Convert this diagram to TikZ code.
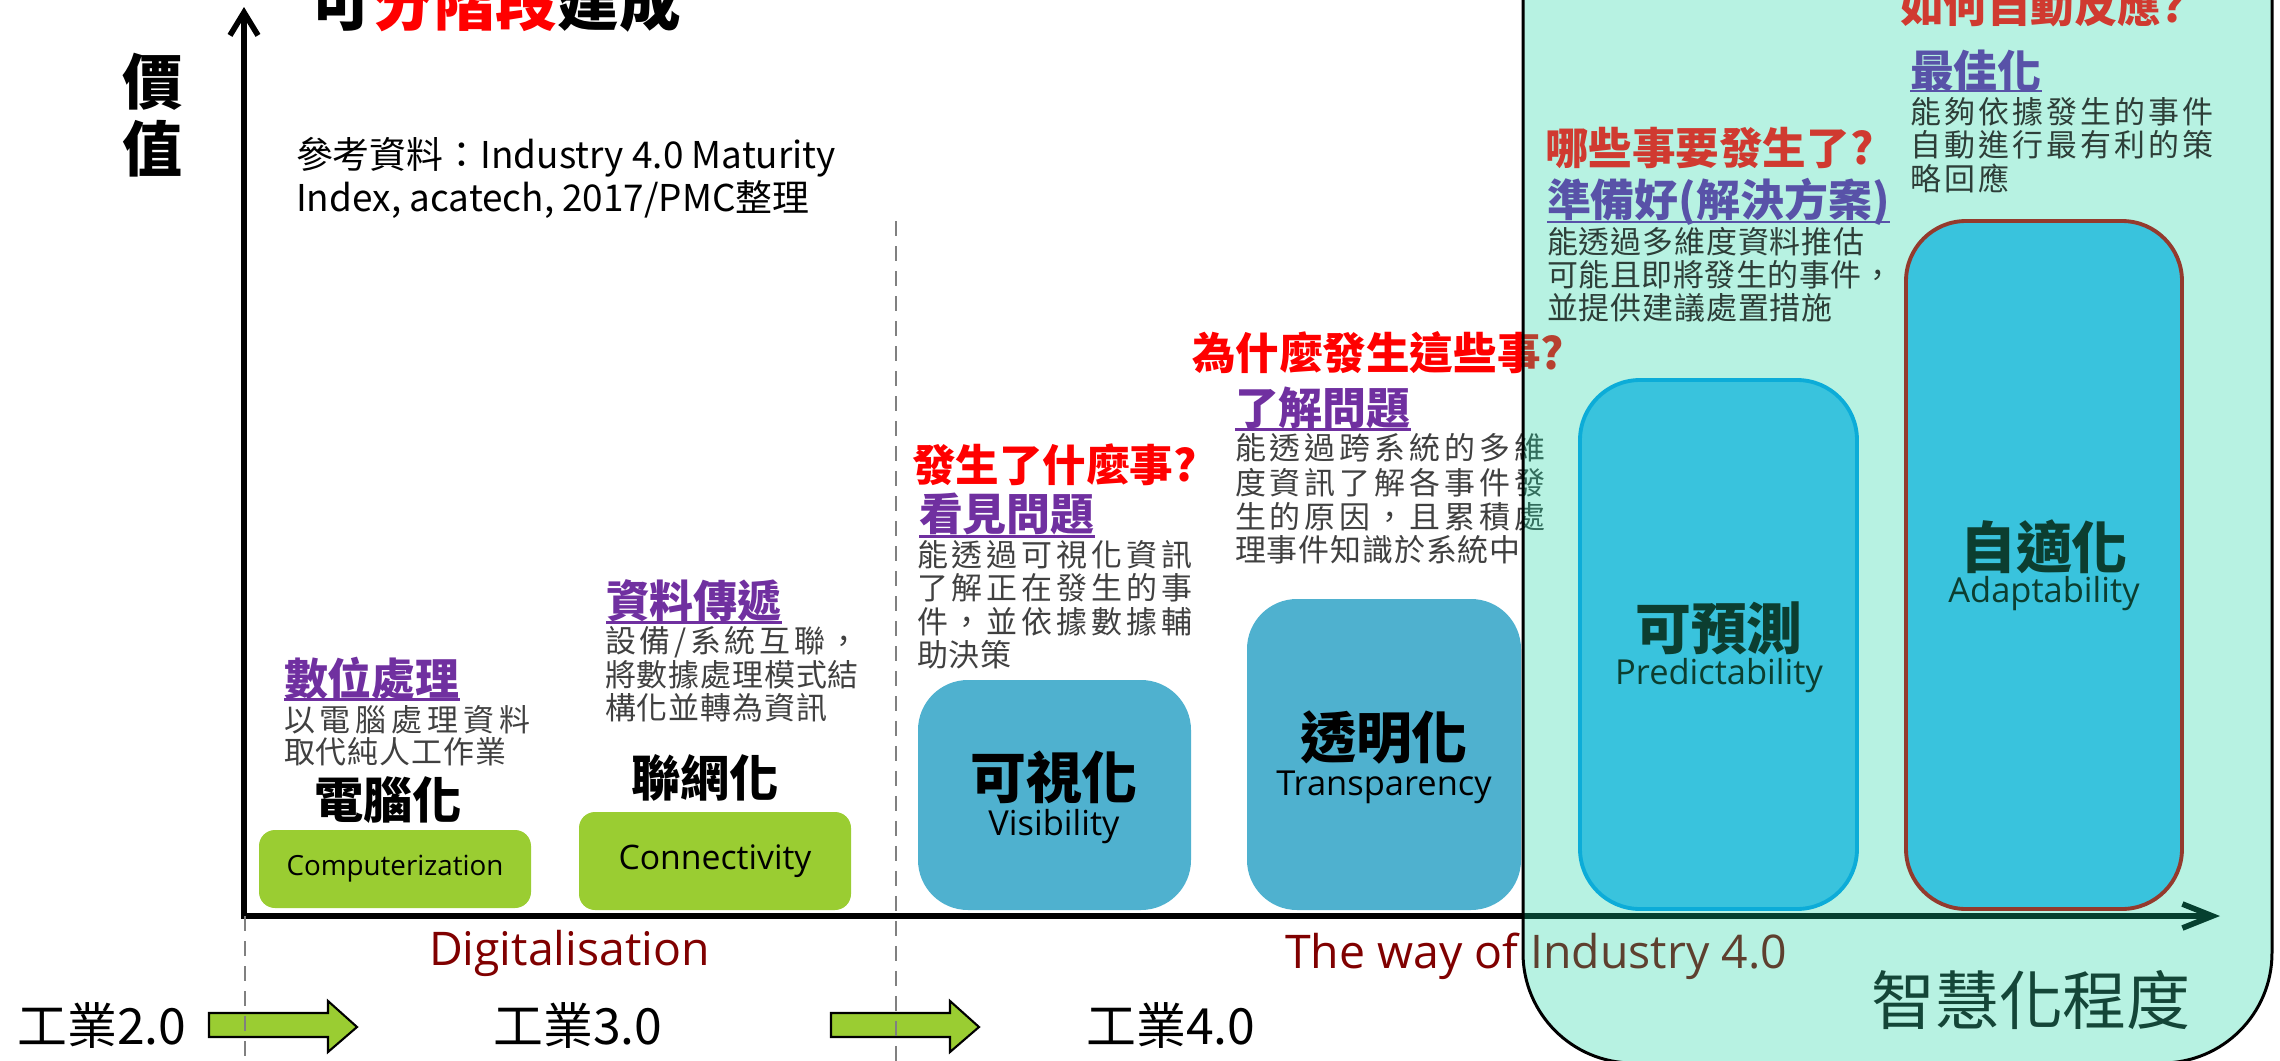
\documentclass[tikz,border=0pt]{standalone}
\usepackage{fontspec}
\setmainfont{Noto Sans CJK TC}
\newfontfamily\lat{Open Sans}
\usetikzlibrary{arrows.meta}
\definecolor{gfill}{RGB}{154,205,50}
\definecolor{bfill}{RGB}{79,177,207}
\definecolor{pfill}{RGB}{57,195,221}
\definecolor{pborder}{RGB}{12,172,216}
\definecolor{aborder}{RGB}{148,58,45}
\definecolor{hpurple}{RGB}{112,48,160}
\definecolor{ppurple}{RGB}{88,82,168}
\definecolor{qred}{RGB}{255,0,0}
\definecolor{pred}{RGB}{208,58,48}
\definecolor{dgray}{RGB}{64,64,64}
\definecolor{pgray}{RGB}{45,62,56}
\definecolor{plabel}{RGB}{12,62,48}
\definecolor{pgreen}{RGB}{20,70,56}
\definecolor{dred}{RGB}{128,0,0}
\definecolor{dashgray}{RGB}{128,128,128}
\definecolor{panelc}{RGB}{18,212,158}
\newcommand\fsz[1]{\fontsize{#1}{#1}\selectfont}
\newcommand\lsp[2]{{\addfontfeature{LetterSpace=#1}#2}}
\begin{document}
\begin{tikzpicture}[x=0.1mm,y=-0.1mm,
  every node/.style={inner sep=0pt,outer sep=0pt},
  gbox/.style={fill=gfill,draw=none,rounded corners=1.6mm},
  bbox/.style={fill=bfill,draw=none,rounded corners=5mm},
  qtext/.style={anchor=west,text=qred,font=\fsz{12.4}\bfseries},
  hd/.style={anchor=west,text=hpurple,font=\fsz{12.5}\bfseries},
  ul/.style={line width=0.85pt},
  dl/.style={anchor=west,text=dgray,font=\fsz{8.8}},
  bt/.style={font=\fsz{15.9}\bfseries},
  bs/.style={font=\lat\fsz{9.8}},
  bigk/.style={font=\fsz{14}\bfseries},
  axisline/.style={line width=1.6pt},
  gdashed/.style={dashgray,line width=0.85pt,dash pattern=on 1.5mm off 1mm},
  blockarrow/.style={fill=gfill,draw=black,line width=0.6pt},
  era/.style={font=\fsz{14.2}},
  way/.style={anchor=base west,text=dred,font=\lat\fsz{13.2}}]
\useasboundingbox (0,0) rectangle (2280,1061);
\clip (0,0) rectangle (2280,1061);

% ---------- axes ----------
\coordinate (Ybot) at (244,919);
\coordinate (Ytop) at (244,7);
\coordinate (Xst) at (241,916);
\coordinate (Xend) at (2220,916);
\draw[axisline,-{Straight Barb[length=2.3mm,width=2.8mm]}] (Ybot) -- (Ytop);
\draw[axisline,-{Straight Barb[length=3mm,width=2.4mm]}] (Xst) -- (Xend);

% ---------- title and side text ----------
\node[font=\fsz{17.6}\bfseries] (title) at (496,2) {可{\color{qred}分階段}建成};
\node[font=\fsz{17.1}\bfseries] (jia) at (153,82) {價};
\node[font=\fsz{17.1}\bfseries] (zhi) at (153,149) {值};
\node[anchor=west,font=\fsz{10.5}] (ref1) at (296,157) {參考資料：Industry 4.0 Maturity};
\node[anchor=west,font=\fsz{10.5}] (ref2) at (296,200) {Index, acatech, 2017/PMC整理};

% ---------- green boxes ----------
\node[gbox,minimum width=27.2mm,minimum height=7.8mm,font=\lat\fsz{7.9}] (cbox) at (395,869) {Computerization};
\node[gbox,minimum width=27.2mm,minimum height=9.8mm,font=\lat\fsz{9.6}] (nbox) at (715,861) {Connectivity};
\node[bigk] (cz) at (388,800) {電腦化};
\node[bigk] (lw) at (705,778) {聯網化};

\node[hd] (h1) at (284,678) {數位處理};
\draw[ul,hpurple] ([yshift=-2.1mm]h1.west) -- ([yshift=-2.1mm]h1.east);
\node[dl] (a1) at (284,720) {\lsp{16}{以電腦處理資料}};
\node[dl] (a2) at (284,752) {\lsp{3}{取代純人工作業}};

\node[hd] (h2) at (606,601) {資料傳遞};
\draw[ul,hpurple] ([yshift=-2.1mm]h2.west) -- ([yshift=-2.1mm]h2.east);
\node[dl] (b1) at (605,642) {\lsp{12}{設備/系統互聯，}};
\node[dl] (b2) at (605,675) {\lsp{3}{將數據處理模式結}};
\node[dl] (b3) at (605,708) {\lsp{3}{構化並轉為資訊}};

% ---------- blue boxes ----------
\node[bbox,minimum width=27.3mm,minimum height=23mm] (vbox) at (1054.5,795) {};
\node[bbox,minimum width=27.4mm,minimum height=31.1mm] (tbox) at (1384,754.5) {};
\node[bt] (vt) at (1054,777) {可視化};
\node[bs] (vs) at (1054,827) {Visibility};
\node[bt] (tt) at (1384,737) {透明化};
\node[bs] (ts) at (1384,787) {Transparency};

\node[qtext] (q1) at (912,465) {發生了什麼事?};
\node[hd] (h3) at (919,514) {看見問題};
\draw[ul,hpurple] ([yshift=-2.2mm]h3.west) -- ([yshift=-2.2mm]h3.east);
\node[dl] (c1) at (917,555) {\lsp{13}{能透過可視化資訊}};
\node[dl] (c2) at (917,588) {\lsp{13}{了解正在發生的事}};
\node[dl] (c3) at (917,622) {\lsp{13}{件，並依據數據輔}};
\node[dl] (c4) at (917,655) {\lsp{3}{助決策}};

\node[qtext] (q2) at (1192,353) {為什麼發生這些事?};
\node[hd] (h4) at (1235,408) {了解問題};
\draw[ul,hpurple] ([yshift=-2.1mm]h4.west) -- ([yshift=-2.1mm]h4.east);
\node[dl] (d1) at (1235,448) {\lsp{13}{能透過跨系統的多維}};
\node[dl] (d2) at (1235,483) {\lsp{13}{度資訊了解各事件發}};
\node[dl] (d3) at (1235,517) {\lsp{13}{生的原因，且累積處}};
\node[dl] (d4) at (1235,550) {\lsp{3}{理事件知識於系統中}};

% ---------- bottom row ----------
\node[way] (digi) at (429,965) {Digitalisation};
\node[way] (wayi) at (1285,968) {The way of Industry 4.0};
\node[era] (ind2) at (102,1025) {工業2.0};
\node[era] (ind3) at (578,1025) {工業3.0};
\node[era] (ind4) at (1171,1025) {工業4.0};
\draw[blockarrow] (209,1013) -- (328,1013) -- (328,1001) -- (357,1027) -- (328,1052) -- (328,1037) -- (209,1037) -- cycle;
\draw[blockarrow] (831,1013) -- (950,1013) -- (950,1001) -- (979,1027) -- (950,1052) -- (950,1037) -- (831,1037) -- cycle;

\coordinate (da) at (245,916);
\coordinate (db) at (245,1061);
\coordinate (dc) at (896,221);
\coordinate (dd) at (896,1061);
\draw[gdashed] (da) -- (db);
\draw[gdashed] (dc) -- (dd);

% ---------- translucent panel ----------
\draw[line width=0.85pt,fill=panelc,fill opacity=0.3,rounded corners=11mm] (1523,-200) rectangle (2272,1063);

% ---------- panel content ----------
\node[fill=pfill,draw=pborder,line width=1.1pt,rounded corners=6mm,minimum width=27.7mm,minimum height=52.9mm] (pbox) at (1718.5,644.5) {};
\node[fill=pfill,draw=aborder,line width=1.1pt,rounded corners=6mm,minimum width=27.6mm,minimum height=68.8mm] (abox) at (2044,565) {};
\node[bt,text=plabel] (pt) at (1719,628) {可預測};
\node[bs,text=plabel] (ps) at (1719,676) {Predictability};
\node[bt,text=plabel] (at) at (2044,547) {自適化};
\node[bs,text=plabel] (as) at (2044,594) {Adaptability};

\node[qtext,text=pred] (q3) at (1545,148) {哪些事要發生了?};
\node[hd,text=ppurple] (h5) at (1547,202) {準備好(解決方案)};
\draw[ul,ppurple] ([yshift=-2.0mm]h5.west) -- ([yshift=-2.0mm]h5.east);
\node[dl,text=pgray] (e1) at (1547,242) {\lsp{3}{能透過多維度資料推估}};
\node[dl,text=pgray] (e2) at (1547,275) {\lsp{2}{可能且即將發生的事件，}};
\node[dl,text=pgray] (e3) at (1547,308) {\lsp{3}{並提供建議處置措施}};

\node[qtext,text=pred] (q4) at (1900,6) {如何自動反應?};
\node[hd,text=ppurple] (h6) at (1910,71) {最佳化};
\draw[ul,ppurple] ([yshift=-2.0mm]h6.west) -- ([yshift=-2.0mm]h6.east);
\node[dl,text=pgray] (f1) at (1910,112) {\lsp{10}{能夠依據發生的事件}};
\node[dl,text=pgray] (f2) at (1910,145) {\lsp{10}{自動進行最有利的策}};
\node[dl,text=pgray] (f3) at (1910,178) {\lsp{10}{略回應}};

\node[text=pgreen,font=\fsz{18.2}] (smart) at (2031,1000) {智慧化程度};
\end{tikzpicture}
\end{document}
